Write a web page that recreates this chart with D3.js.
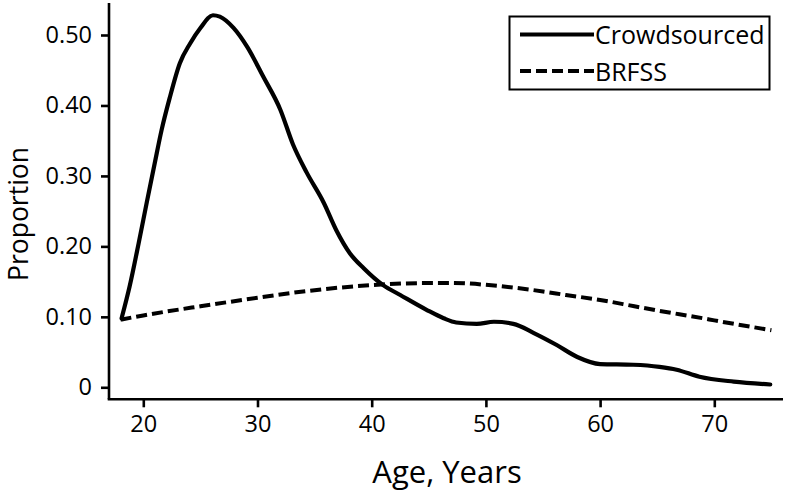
<!DOCTYPE html>
<html>
<head>
<meta charset="utf-8">
<script src="https://cdn.jsdelivr.net/npm/d3@7"></script>
<style>
  html, body { margin: 0; padding: 0; background: #fff; }
  svg { display: block; }
  text { font-family: "Open Sans", "Noto Sans", sans-serif; fill: #000; }
</style>
</head>
<body>
<svg id="chart" width="787" height="493"></svg>
<script>
// ---- data ----
const crowdAges = [18.1, 18.8, 19.6, 20.3, 21.0, 21.6, 22.3, 23.2, 24.1, 25.0, 26.1, 26.7, 27.9, 29.1, 30.5, 32.0, 33.1, 34.3, 35.8, 36.9, 38.1, 39.3, 41.0, 42.5, 44.8, 46.3, 47.4, 49.2, 50.7, 52.4, 54.2, 56.2, 58.0, 60.0, 62.9, 65.2, 66.7, 68.7, 71.7, 74.9];
const crowdValues = [0.098, 0.143, 0.205, 0.262, 0.318, 0.365, 0.410, 0.460, 0.488, 0.510, 0.528, 0.526, 0.510, 0.483, 0.441, 0.394, 0.345, 0.305, 0.262, 0.223, 0.190, 0.169, 0.145, 0.131, 0.110, 0.098, 0.092, 0.090, 0.093, 0.090, 0.077, 0.060, 0.043, 0.033, 0.032, 0.029, 0.025, 0.015, 0.008, 0.004];
const brfssAges = [18, 20, 25, 30, 34, 40, 45, 47, 51, 55, 57, 60, 63, 65, 69, 70, 75];
const brfssValues = [0.096, 0.102, 0.115, 0.127, 0.136, 0.145, 0.148, 0.148, 0.144, 0.136, 0.131, 0.124, 0.115, 0.109, 0.098, 0.095, 0.081];
const xTicks = [20, 30, 40, 50, 60, 70];
const yTicks = [0, 0.1, 0.2, 0.3, 0.4, 0.5];
const yTickLabels = ["0", "0.10", "0.20", "0.30", "0.40", "0.50"];
const seriesNames = ["Crowdsourced", "BRFSS"];
const xTitle = "Age, Years";
const yTitle = "Proportion";

// ---- layout ----
const svg = d3.select("#chart");
const axisX = 109, axisY = 399.3;
const x = d3.scaleLinear().domain([20, 70]).range([143.3, 714.3]);
const y = d3.scaleLinear().domain([0, 0.5]).range([387.3, 35]);

// axes lines
const axG = svg.append("g");
axG.append("line").attr("x1", axisX).attr("x2", axisX).attr("y1", 3).attr("y2", axisY)
  .attr("stroke", "#000").attr("stroke-width", 2.6);
axG.append("line").attr("x1", axisX - 1.3).attr("x2", 783).attr("y1", axisY).attr("y2", axisY)
  .attr("stroke", "#000").attr("stroke-width", 2.6);

// y axis
const yAxis = d3.axisLeft(y).tickValues(yTicks).tickSize(8).tickPadding(9)
  .tickFormat((d, i) => yTickLabels[i]);
const yg = svg.append("g").attr("transform", `translate(${axisX},0)`).call(yAxis);
yg.select(".domain").remove();
yg.selectAll(".tick line").attr("stroke", "#000").attr("stroke-width", 2.6);
yg.selectAll(".tick text").style("font-size", "23.5px").style("font-family", "'Open Sans', sans-serif").attr("fill", "#000");

// x axis
const xAxis = d3.axisBottom(x).tickValues(xTicks).tickSize(8).tickPadding(8).tickFormat(d3.format("d"));
const xg = svg.append("g").attr("transform", `translate(0,${axisY})`).call(xAxis);
xg.select(".domain").remove();
xg.selectAll(".tick line").attr("stroke", "#000").attr("stroke-width", 2.6);
xg.selectAll(".tick text").style("font-size", "23.5px").style("font-family", "'Open Sans', sans-serif").attr("fill", "#000");

// titles
svg.append("text").attr("x", 447).attr("y", 483).attr("text-anchor", "middle")
  .style("font-size", "31px").text(xTitle);
svg.append("text").attr("transform", "translate(28,214) rotate(-90)").attr("text-anchor", "middle")
  .style("font-size", "26.5px").text(yTitle);

// lines
const line = d3.line().x(d => x(d[0])).y(d => y(d[1])).curve(d3.curveMonotoneX);
const crowd = crowdAges.map((a, i) => [a, crowdValues[i]]);
const brfss = brfssAges.map((a, i) => [a, brfssValues[i]]);
svg.append("path").datum(brfss).attr("d", line).attr("fill", "none")
  .attr("stroke", "#000").attr("stroke-width", 4).attr("stroke-dasharray", "11,5");
svg.append("path").datum(crowd).attr("d", line).attr("fill", "none")
  .attr("stroke", "#000").attr("stroke-width", 4.2).attr("stroke-linejoin", "round").attr("stroke-linecap", "round");

// legend
const lg = svg.append("g");
lg.append("rect").attr("x", 509.5).attr("y", 16.5).attr("width", 260).attr("height", 73)
  .attr("fill", "#fff").attr("stroke", "#000").attr("stroke-width", 2);
const legendDash = [null, "11,5"];
seriesNames.forEach((name, i) => {
  const ly = 34.5 + i * 36.5;
  lg.append("line").attr("x1", 520).attr("x2", 594).attr("y1", ly).attr("y2", ly)
    .attr("stroke", "#000").attr("stroke-width", 4)
    .attr("stroke-dasharray", legendDash[i]);
  lg.append("text").attr("x", 595).attr("y", ly + 9.5).style("font-size", "25px").text(name);
});
</script>
</body>
</html>
